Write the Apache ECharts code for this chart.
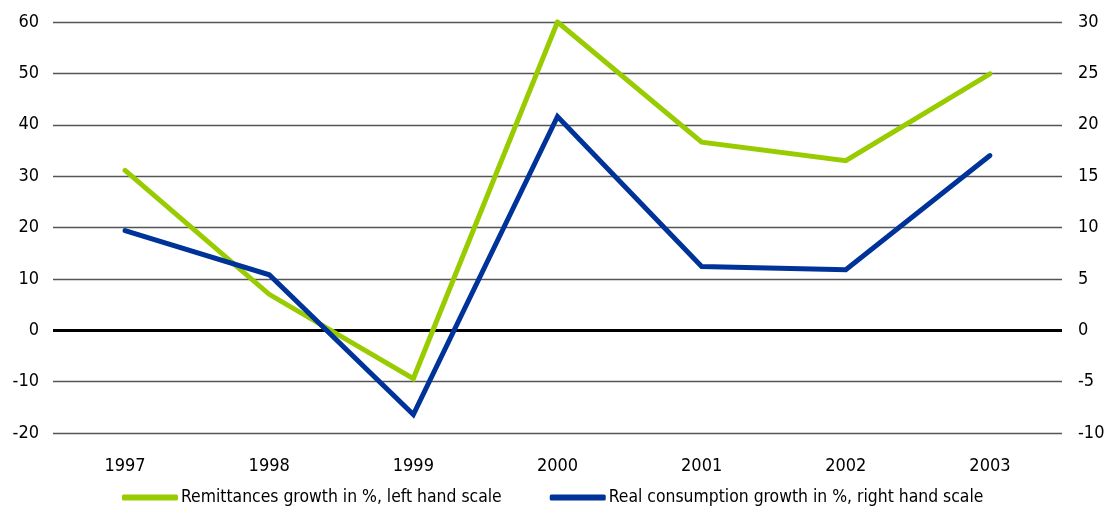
<!DOCTYPE html>
<html>
<head>
<meta charset="utf-8">
<script src="https://cdn.jsdelivr.net/npm/echarts@6/dist/echarts.min.js"></script>
<style>
  html, body { margin: 0; padding: 0; background: #fff; }
  #chart { width: 1109px; height: 510px; }
</style>
</head>
<body>
<div id="chart"></div>
<script>
// Years on the category axis
const years = ['1997', '1998', '1999', '2000', '2001', '2002', '2003'];
// Remittances growth, % (left scale)
const remittances = [31.1, 7.0, -9.4, 60.0, 36.6, 33.0, 49.9];
// Real consumption growth, % (right scale)
const consumption = [9.7, 5.4, -8.2, 20.8, 6.2, 5.9, 17.0];

const FONT = '"Liberation Sans Narrow", "DejaVu Sans Condensed", "Arial Narrow", sans-serif';
const FS = 18;

const chart = echarts.init(document.getElementById('chart'));
chart.setOption({
  animation: false,
  textStyle: { fontFamily: FONT },
  grid: { left: 53, right: 47, top: 22, bottom: 77 },
  legend: {
    top: 489,
    left: 122,
    padding: 0,
    itemWidth: 56,
    itemHeight: 6,
    itemGap: 48,
    icon: 'roundRect',
    textStyle: { fontFamily: FONT, fontSize: 17.4, color: '#000', padding: [0, 0, 0, -2] },
    data: ['Remittances growth in %, left hand scale', 'Real consumption growth in %, right hand scale']
  },
  xAxis: {
    type: 'category',
    data: years,
    boundaryGap: true,
    axisLine: { show: false },
    axisTick: { show: false },
    axisLabel: { color: '#000', fontSize: FS, margin: 24, fontFamily: FONT }
  },
  yAxis: [
    {
      type: 'value',
      min: -20, max: 60, interval: 10,
      axisLine: { show: false },
      axisTick: { show: false },
      axisLabel: { color: '#000', fontSize: FS, margin: 14, fontFamily: FONT },
      splitLine: { lineStyle: { color: '#555', width: 1.3 } }
    },
    {
      type: 'value',
      min: -10, max: 30, interval: 5,
      position: 'right',
      axisLine: { show: false },
      axisTick: { show: false },
      axisLabel: { color: '#000', fontSize: FS, margin: 16, fontFamily: FONT },
      splitLine: { show: false }
    }
  ],
  series: [
    {
      name: 'Remittances growth in %, left hand scale',
      type: 'line',
      yAxisIndex: 0,
      data: remittances,
      symbol: 'none',
      itemStyle: { color: '#99cc00' },
      lineStyle: { color: '#99cc00', width: 5, cap: 'round', join: 'miter' },
      z: 3,
      markLine: {
        silent: true,
        symbol: 'none',
        label: { show: false },
        lineStyle: { color: '#000', width: 3, type: 'solid' },
        data: [{ yAxis: 0 }],
        z: 2
      }
    },
    {
      name: 'Real consumption growth in %, right hand scale',
      type: 'line',
      yAxisIndex: 1,
      data: consumption,
      symbol: 'none',
      itemStyle: { color: '#003399' },
      lineStyle: { color: '#003399', width: 5, cap: 'round', join: 'miter' },
      z: 4
    }
  ]
});
</script>
</body>
</html>
